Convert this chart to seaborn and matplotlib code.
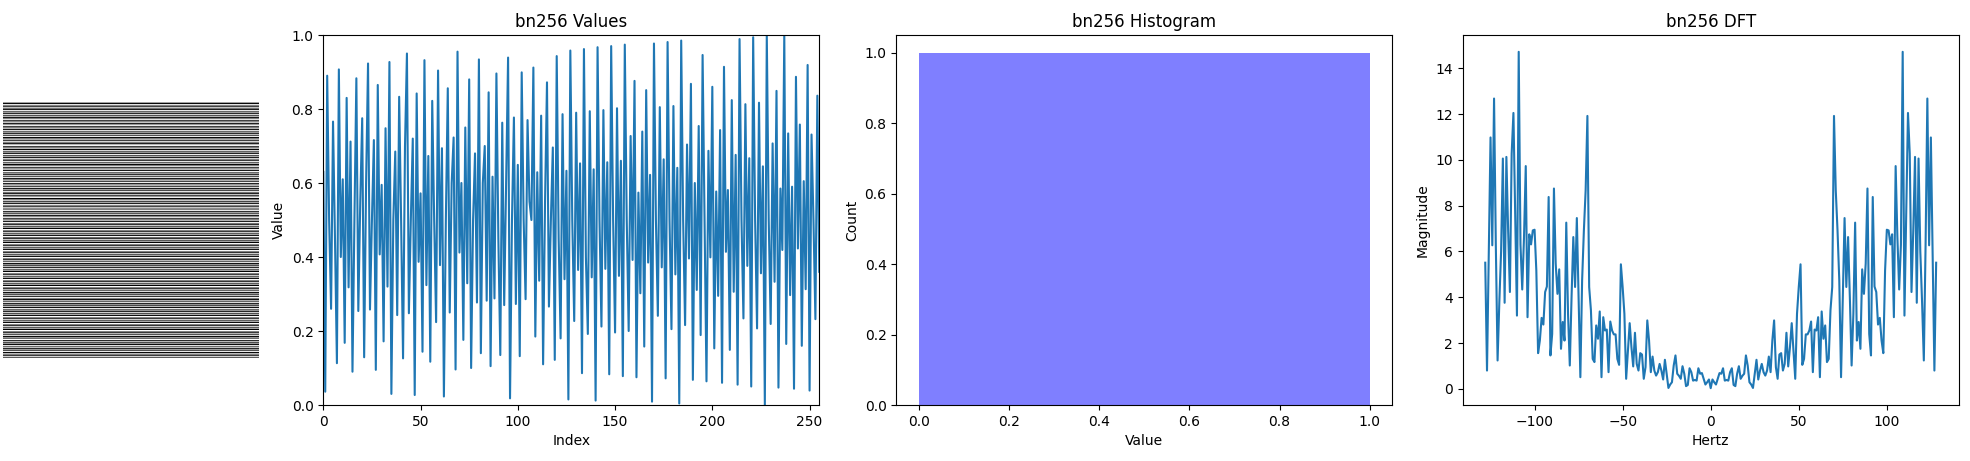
import numpy as np
import pandas as pd
import matplotlib
matplotlib.use("Agg")
import matplotlib.pyplot as plt
import seaborn as sns

name = "bn256"

# values, index 0..255
values = [
    0.63, 0.036, 0.89, 0.5, 0.26, 0.766, 0.45, 0.113, 0.907, 0.40,
    0.61, 0.168, 0.83, 0.318, 0.712, 0.09, 0.5, 0.883, 0.254, 0.55,
    0.775, 0.129, 0.6, 0.923, 0.258, 0.5, 0.716, 0.095, 0.865, 0.407,
    0.595, 0.172, 0.748, 0.32, 0.927, 0.03, 0.5, 0.685, 0.243, 0.833,
    0.5, 0.126, 0.7, 0.95, 0.248, 0.5, 0.72, 0.027, 0.842, 0.387,
    0.572, 0.144, 0.932, 0.324, 0.673, 0.117, 0.822, 0.5, 0.224, 0.904,
    0.378, 0.694, 0.023, 0.5, 0.856, 0.25, 0.6, 0.723, 0.096, 0.955,
    0.412, 0.6, 0.176, 0.75, 0.329, 0.88, 0.10, 0.5, 0.68, 0.277,
    0.934, 0.14, 0.6, 0.70, 0.282, 0.845, 0.105, 0.617, 0.288, 0.896,
    0.45, 0.135, 0.763, 0.27, 0.6, 0.939, 0.018, 0.5, 0.777, 0.273,
    0.649, 0.132, 0.899, 0.5, 0.286, 0.77, 0.55, 0.50, 0.912, 0.185,
    0.629, 0.336, 0.782, 0.11, 0.55, 0.872, 0.266, 0.5, 0.696, 0.122,
    0.943, 0.45, 0.18, 0.786, 0.34, 0.633, 0.015, 0.958, 0.5, 0.227,
    0.79, 0.365, 0.653, 0.086, 0.962, 0.4, 0.192, 0.794, 0.345, 0.637,
    0.012, 0.967, 0.5, 0.212, 0.797, 0.368, 0.656, 0.083, 0.97, 0.5,
    0.196, 0.802, 0.349, 0.66, 0.078, 0.974, 0.5, 0.2, 0.727, 0.392,
    0.876, 0.075, 0.574, 0.302, 0.739, 0.158, 0.851, 0.385, 0.622, 0.009,
    0.977, 0.5, 0.241, 0.805, 0.372, 0.664, 0.072, 0.981, 0.5, 0.205,
    0.808, 0.353, 0.641, 0.004, 0.985, 0.5, 0.216, 0.704, 0.396, 0.868,
    0.068, 0.60, 0.311, 0.754, 0.189, 0.946, 0.5, 0.064, 0.687, 0.399,
    0.86, 0.153, 0.577, 0.295, 0.743, 0.06, 0.914, 0.414, 0.581, 0.149,
    0.824, 0.306, 0.676, 0.055, 0.989, 0.5, 0.234, 0.813, 0.376, 0.667,
    0.05, 0.994, 0.5, 0.207, 0.817, 0.356, 0.645, 0.0, 1.0, 0.5,
    0.219, 0.707, 0.333, 0.849, 0.047, 0.585, 0.419, 1.0, 0.165, 0.734,
    0.297, 0.59, 0.044, 0.887, 0.423, 0.758, 0.16, 0.605, 0.313, 0.919,
    0.039, 0.731, 0.5, 0.232, 0.836, 0.36,
]

# histogram is one flat block
hist_edges = [0.0, 1.0]
hist_centers = [0.5]
hist_counts = [1.0]

# DFT magnitude, -128..0 Hz
dft_neg = [
    5.51, 0.80, 5.8, 10.98, 6.27, 12.68, 6.3, 1.24, 3.8, 6.0,
    10.06, 3.76, 10.13, 6.9, 4.23, 10.28, 12.05, 7.6, 3.2, 14.72,
    6.3, 4.34, 6.6, 9.73, 3.13, 6.75, 6.31, 6.92, 6.95, 5.17,
    1.56, 2.11, 3.1, 2.81, 4.23, 4.47, 8.38, 1.46, 2.4, 8.75,
    5.47, 4.15, 5.22, 1.75, 2.92, 2.11, 7.26, 3.28, 1.02, 4.0,
    6.63, 4.45, 7.46, 4.0, 0.51, 4.74, 6.92, 8.67, 11.92, 4.45,
    3.43, 1.31, 1.17, 2.77, 2.19, 3.38, 0.51, 3.13, 2.55, 2.59,
    0.73, 2.94, 2.55, 2.38, 2.38, 1.31, 1.05, 5.44, 4.45, 3.28,
    0.44, 1.68, 2.87, 1.82, 0.98, 2.45, 1.09, 0.8, 1.56, 1.5,
    0.44, 0.95, 2.99, 2.11, 0.73, 1.41, 0.8, 0.58, 0.73, 1.09,
    0.8, 0.41, 1.27, 0.66, 0.04, 0.19, 0.29, 1.02, 1.46, 0.66,
    0.57, 0.44, 0.99, 0.66, 0.12, 0.17, 0.9, 0.73, 0.36, 0.39,
    0.36, 0.9, 0.66, 0.69, 0.44, 0.19, 0.29, 0.41, 0.03,
]
# DFT magnitude, 1..128 Hz
dft_pos = [
    0.41, 0.29, 0.19, 0.44, 0.69, 0.66, 0.9, 0.36, 0.39, 0.36,
    0.73, 0.9, 0.17, 0.12, 0.66, 0.99, 0.44, 0.57, 0.66, 1.46,
    1.02, 0.29, 0.19, 0.04, 0.66, 1.27, 0.41, 0.8, 1.09, 0.73,
    0.58, 0.8, 1.41, 0.73, 2.11, 2.99, 0.95, 0.44, 1.5, 1.56,
    0.8, 1.09, 2.45, 0.98, 1.82, 2.87, 1.68, 0.44, 3.28, 4.45,
    5.44, 1.05, 1.31, 2.38, 2.38, 2.55, 2.94, 0.73, 2.59, 2.55,
    3.13, 0.51, 3.38, 2.19, 2.77, 1.17, 1.31, 3.43, 4.45, 11.92,
    8.67, 6.92, 4.74, 0.51, 4.0, 7.46, 4.45, 6.63, 4.0, 1.02,
    3.28, 7.26, 2.11, 2.92, 1.75, 5.22, 4.15, 5.47, 8.75, 2.4,
    1.46, 8.38, 4.47, 4.23, 2.81, 3.1, 2.11, 1.56, 5.17, 6.95,
    6.92, 6.31, 6.75, 3.13, 9.73, 6.6, 4.34, 6.3, 14.72, 3.2,
    7.6, 12.05, 10.28, 4.23, 6.9, 10.13, 3.76, 10.06, 6.0, 3.8,
    1.24, 6.3, 12.68, 6.27, 10.98, 5.8, 0.80, 5.51,
]

W, H = 1970, 461


def add_axes_px(left, top, right, bottom):
    return fig.add_axes([left / W, 1 - bottom / H, (right - left) / W, (bottom - top) / H])


fig = plt.figure(figsize=(W / 100, H / 100), dpi=100)

# stripes, each row holds one value, one pixel per cell
ax0 = add_axes_px(3, 102, 259, 358)
stripes = np.tile(np.array(values)[:, None], (1, len(values)))
sns.heatmap(stripes, cmap="gray", vmin=0, vmax=1, cbar=False, xticklabels=False,
            yticklabels=False, square=True, ax=ax0)
ax0.axis("off")

# values
ax1 = add_axes_px(323.3, 35, 819.3, 405)
val_df = pd.DataFrame({"Index": np.arange(len(values)), "Value": values})
sns.lineplot(data=val_df, x="Index", y="Value", color="C0", ax=ax1)
ax1.set_xlim(0, 255)
ax1.set_ylim(0, 1)
ax1.set_title(name + " Values")

# histogram
ax2 = add_axes_px(896.3, 35, 1392.3, 405)
sns.histplot(x=hist_centers, weights=hist_counts, bins=hist_edges, color="blue",
             alpha=0.5, linewidth=0, ax=ax2)
ax2.set_xlabel("Value")
ax2.set_ylabel("Count")
ax2.set_title(name + " Histogram")

# dft
ax3 = add_axes_px(1462.7, 35, 1958.7, 405)
mag = dft_neg + dft_pos
dft_df = pd.DataFrame({"Hertz": np.arange(len(mag)) - 128, "Magnitude": mag})
sns.lineplot(data=dft_df, x="Hertz", y="Magnitude", color="C0", ax=ax3)
ax3.set_title(name + " DFT")

fig.savefig("out.png", dpi=100)
